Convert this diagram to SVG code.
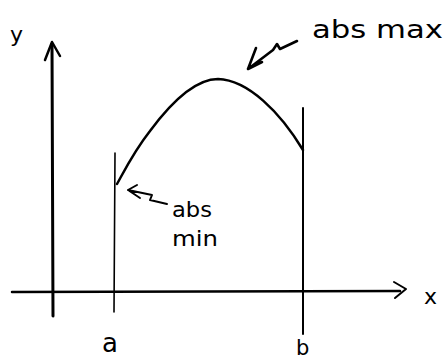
<svg xmlns="http://www.w3.org/2000/svg" width="445" height="360" viewBox="0 0 445 360">
<style>
.ink{fill:none;stroke:#000;stroke-linecap:round;stroke-linejoin:round}
.t{font-family:"DejaVu Sans",sans-serif;fill:#000}
</style>
<rect width="445" height="360" fill="#fff"/>
<g id="axes">
<path class="ink" stroke-width="3" d="M53 316 L52 44"/>
<path class="ink" stroke-width="2.5" d="M45 60 L52 42 L60 56"/>
<path class="ink" stroke-width="2.5" d="M12 292 L400 291"/>
<path class="ink" stroke-width="2" d="M394 282 L406 289 L395 298"/>
</g>
<g id="bounds">
<path class="ink" stroke-width="1.6" d="M115 153 L114 312"/>
<path class="ink" stroke-width="2" d="M303 108 L303 334"/>
</g>
<g id="curve">
<path class="ink" stroke-width="2.5" d="M117 184 C128 164 135 150 150 131 C170 104 195 79 218 79 C248 80 280 112 303 150"/>
</g>
<g id="arrows">
<path class="ink" stroke-width="2.6" d="M248 69 L256 48 M248 69 L262 62 M248 69 L273 50 L277 44 L280 49 L297 41"/>
<path class="ink" stroke-width="2" d="M128 190 L137 185 M128 190 L140 198 M128 190 L152 195 L150 200 L167 204"/>
</g>
<g id="labels">
<text class="t" x="312" y="38" font-size="25" textLength="131" lengthAdjust="spacingAndGlyphs">abs max</text>
<text class="t" x="172" y="217" font-size="22" textLength="40" lengthAdjust="spacingAndGlyphs">abs</text>
<text class="t" x="172" y="246" font-size="22" textLength="46" lengthAdjust="spacingAndGlyphs">min</text>
<text class="t" x="10" y="42" font-size="22">y</text>
<text class="t" x="424" y="304" font-size="22">x</text>
<text class="t" x="102" y="352" font-size="26">a</text>
<text class="t" x="296" y="355" font-size="21">b</text>
</g>
</svg>
